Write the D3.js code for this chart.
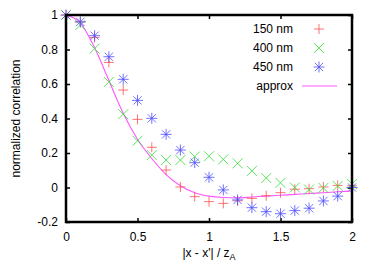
<!DOCTYPE html>
<html>
<head>
<meta charset="utf-8">
<script src="https://cdn.jsdelivr.net/npm/d3@7"></script>
<style>
  body { margin: 0; background: #fff; }
  text { font-family: "Liberation Sans", Arial, sans-serif; font-size: 12px; fill: #000; }
</style>
</head>
<body>
<div id="chart"></div>
<script>
// separations |x - x'| / zA
var xs = [0, 0.1, 0.2, 0.3, 0.4, 0.5, 0.6, 0.7, 0.8, 0.9, 1.0,
          1.1, 1.2, 1.3, 1.4, 1.5, 1.6, 1.7, 1.8, 1.9, 2.0];
var nm150 = [1.0, 0.96, 0.87, 0.725, 0.565, 0.395, 0.233, 0.101, 0.003, -0.053, -0.082,
             -0.092, -0.077, -0.063, -0.048, -0.03, -0.01, -0.007, 0.003, 0.012, 0.01];
var nm400 = [1.0, 0.942, 0.805, 0.612, 0.425, 0.271, 0.188, 0.159, 0.159, 0.179, 0.181,
             0.163, 0.14, 0.096, 0.055, 0.027, 0.0, -0.012, -0.002, 0.009, 0.02];
var nm450 = [1.0, 0.96, 0.88, 0.758, 0.627, 0.505, 0.401, 0.308, 0.217, 0.144, 0.059,
             -0.014, -0.072, -0.117, -0.14, -0.152, -0.134, -0.12, -0.078, -0.05, 0.0];
var approx = [1.0, 0.955, 0.81, 0.62, 0.43, 0.28, 0.168, 0.075, 0.01, -0.03, -0.05,
              -0.058, -0.06, -0.055, -0.05, -0.045, -0.04, -0.035, -0.03, -0.025, -0.02];
var xTicks = [0, 0.5, 1, 1.5, 2];
var yTicks = [-0.2, 0, 0.2, 0.4, 0.6, 0.8, 1];
var legendNames = ["150 nm", "400 nm", "450 nm", "approx"];

var width = 374, height = 262;
var margin = {top: 15, right: 22, bottom: 40, left: 66};

var svg = d3.select("#chart").append("svg")
    .attr("width", width)
    .attr("height", height);

var x = d3.scaleLinear().domain([0, 2]).range([margin.left, width - margin.right]);
var y = d3.scaleLinear().domain([-0.2, 1]).range([height - margin.bottom, margin.top]);

var fmt = function(d) { return String(+d.toFixed(1)); };

// axes with inward ticks, mirrored on top/right
svg.append("g")
    .attr("transform", "translate(0," + y(-0.2) + ")")
    .call(d3.axisBottom(x).tickValues(xTicks).tickSize(-4).tickPadding(10).tickFormat(fmt))
    .call(g => g.select(".domain").remove());
svg.append("g")
    .attr("transform", "translate(0," + y(1) + ")")
    .call(d3.axisTop(x).tickValues(xTicks).tickSize(-4).tickFormat(""))
    .call(g => g.select(".domain").remove());
svg.append("g")
    .attr("transform", "translate(" + x(0) + ",0)")
    .call(d3.axisLeft(y).tickValues(yTicks).tickSize(-4).tickPadding(8).tickFormat(fmt))
    .call(g => g.select(".domain").remove());
svg.append("g")
    .attr("transform", "translate(" + x(2) + ",0)")
    .call(d3.axisRight(y).tickValues(yTicks).tickSize(-4).tickFormat(""))
    .call(g => g.select(".domain").remove());

svg.selectAll(".tick line").attr("stroke", "#000").attr("stroke-width", 1.5);
svg.selectAll(".tick text").style("font-size", "12px").attr("fill", "#000");

// axis titles
svg.append("text")
    .attr("transform", "translate(16," + ((y(1) + y(-0.2)) / 2) + ") rotate(-90)")
    .attr("text-anchor", "middle")
    .attr("dy", "0.35em")
    .text("normalized correlation");

var xl = svg.append("text")
    .attr("x", (x(0) + x(2)) / 2)
    .attr("y", 257)
    .attr("text-anchor", "middle");
xl.append("tspan").text("|x - x'| / z");
xl.append("tspan").attr("dy", 3).style("font-size", "9px").text("A");

// markers
function plus(s) { return "M" + (-s) + ",0H" + s + "M0," + (-s) + "V" + s; }
function cross(s) { return "M" + (-s) + "," + (-s) + "L" + s + "," + s + "M" + (-s) + "," + s + "L" + s + "," + (-s); }
function star(s) { return plus(s) + cross(s * 0.75); }

var series = [
  {vals: nm150, color: "#ff5050", shape: plus(5)},
  {vals: nm400, color: "#33dd33", shape: cross(5)},
  {vals: nm450, color: "#4d4dff", shape: star(5.5)}
];

// approx curve
var line = d3.line()
    .x(function(d, i) { return x(xs[i]); })
    .y(function(d) { return y(d); })
    .curve(d3.curveMonotoneX);

svg.append("path")
    .datum(approx)
    .attr("d", line)
    .attr("fill", "none")
    .attr("stroke", "#ff55ff")
    .attr("stroke-width", 1.1);

series.forEach(function(s) {
  svg.append("g").selectAll("path")
    .data(s.vals)
    .enter().append("path")
    .attr("transform", function(d, i) { return "translate(" + x(xs[i]) + "," + y(d) + ")"; })
    .attr("d", s.shape)
    .attr("fill", "none")
    .attr("stroke", s.color)
    .attr("stroke-opacity", 0.8)
    .attr("stroke-width", 1);
});

// frame
svg.append("rect")
    .attr("x", x(0))
    .attr("y", y(1))
    .attr("width", x(2) - x(0))
    .attr("height", y(-0.2) - y(1))
    .attr("fill", "none")
    .attr("stroke", "#000")
    .attr("stroke-width", 2.5);

// legend
var legY = [29, 48, 67, 86];
var leg = svg.append("g");
legendNames.forEach(function(name, i) {
  leg.append("text")
    .attr("x", 293)
    .attr("y", legY[i])
    .attr("dy", "0.35em")
    .attr("text-anchor", "end")
    .text(name);
  if (i < 3) {
    leg.append("path")
      .attr("transform", "translate(319," + legY[i] + ")")
      .attr("d", series[i].shape)
      .attr("fill", "none")
      .attr("stroke", series[i].color)
      .attr("stroke-opacity", 0.8);
  } else {
    leg.append("line")
      .attr("x1", 302).attr("x2", 337)
      .attr("y1", legY[i]).attr("y2", legY[i])
      .attr("stroke", "#ff55ff")
      .attr("stroke-width", 1.1);
  }
});
</script>
</body>
</html>
